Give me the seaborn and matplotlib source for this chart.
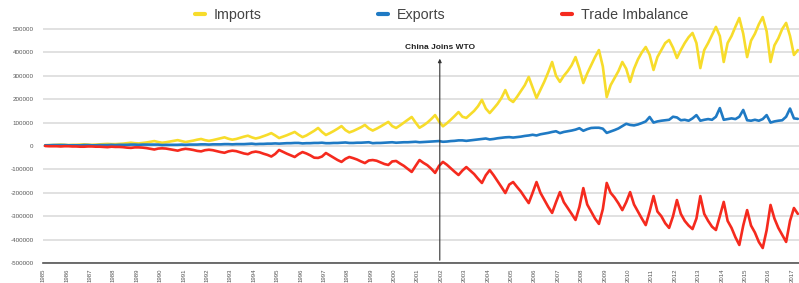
import numpy as np
import pandas as pd
import matplotlib
matplotlib.use("Agg")
import matplotlib.pyplot as plt
import seaborn as sns

years = list(range(1985, 2017))
months = [2, 4, 6, 8, 10, 12]
last_year_months = [2, 4]  # 2017

imports_k = [
    3, 4, 4, 5, 6, 5,           # 1985
    4, 5, 5, 6, 7, 6,           # 1986
    5, 6, 7, 8, 9, 8,           # 1987
    8, 9, 10, 12, 14, 12,       # 1988
    11, 13, 15, 18, 21, 17,     # 1989
    14, 16, 19, 22, 25, 21,     # 1990
    17, 20, 23, 27, 30, 25,     # 1991
    22, 25, 29, 33, 37, 31,     # 1992
    27, 30, 35, 40, 44, 37,     # 1993
    32, 36, 42, 48, 55, 45,     # 1994
    34, 40, 46, 53, 60, 48,     # 1995
    38, 45, 55, 65, 77, 60,     # 1996
    47, 55, 64, 74, 85, 68,     # 1997
    58, 64, 72, 80, 90, 75,     # 1998
    66, 74, 83, 93, 103, 85,    # 1999
    77, 88, 100, 112, 124, 100, # 2000
    78, 88, 100, 115, 132, 105, # 2001
    84, 97, 112, 128, 145, 125, # 2002
    120, 135, 150, 170, 197, 160,  # 2003
    141, 160, 180, 205, 239, 200,  # 2004
    188, 210, 235, 260, 295, 250,  # 2005
    205, 240, 275, 315, 359, 300,  # 2006
    274, 300, 320, 345, 380, 330,  # 2007
    269, 310, 345, 380, 410, 340,  # 2008
    209, 260, 290, 320, 359, 330,  # 2009
    274, 330, 370, 400, 423, 390,  # 2010
    325, 380, 410, 440, 453, 420,  # 2011
    376, 410, 440, 465, 483, 440,  # 2012
    333, 410, 440, 475, 509, 470,  # 2013
    359, 440, 470, 510, 547, 480,  # 2014
    380, 450, 480, 520, 551, 490,  # 2015
    359, 430, 460, 500, 526, 470,  # 2016
    389, 410,                      # 2017
]

exports_k = [
    3, 3, 4, 4, 4, 4,           # 1985
    3, 3, 3, 3, 4, 4,           # 1986
    3, 3, 4, 4, 4, 5,           # 1987
    4, 5, 5, 5, 6, 6,           # 1988
    5, 6, 6, 6, 6, 6,           # 1989
    4, 5, 5, 5, 5, 6,           # 1990
    5, 6, 6, 6, 7, 7,           # 1991
    6, 7, 7, 7, 8, 8,           # 1992
    7, 8, 8, 8, 9, 10,          # 1993
    8, 9, 9, 10, 10, 11,        # 1994
    10, 11, 12, 12, 13, 13,     # 1995
    11, 12, 12, 13, 13, 14,     # 1996
    12, 12, 13, 13, 14, 15,     # 1997
    13, 13, 14, 14, 15, 16,     # 1998
    12, 13, 13, 14, 15, 16,     # 1999
    14, 15, 16, 16, 17, 18,     # 2000
    16, 17, 18, 19, 20, 21,     # 2001
    18, 19, 21, 22, 24, 24,     # 2002
    22, 24, 26, 28, 30, 32,     # 2003
    28, 30, 33, 35, 37, 38,     # 2004
    36, 38, 40, 43, 45, 48,     # 2005
    45, 50, 53, 56, 60, 63,     # 2006
    55, 60, 63, 66, 70, 76,     # 2007
    65, 72, 77, 78, 78, 74,     # 2008
    56, 62, 68, 75, 85, 95,     # 2009
    90, 88, 92, 98, 105, 124,   # 2010
    100, 105, 108, 110, 112, 125,  # 2011
    122, 110, 112, 108, 118, 132,  # 2012
    108, 112, 115, 112, 125, 162,  # 2013
    112, 115, 118, 115, 125, 154,  # 2014
    110, 108, 112, 108, 115, 132,  # 2015
    100, 105, 108, 110, 125, 160,  # 2016
    118, 116,                      # 2017
]

imbalance_k = [
    0, -1, -1, -1, -2, -1,          # 1985
    -1, -2, -2, -3, -3, -2,         # 1986
    -2, -3, -3, -4, -5, -3,         # 1987
    -4, -4, -5, -7, -8, -6,         # 1988
    -6, -7, -9, -12, -15, -11,      # 1989
    -10, -11, -14, -17, -20, -15,   # 1990
    -12, -14, -17, -21, -23, -18,   # 1991
    -16, -18, -22, -26, -29, -23,   # 1992
    -20, -22, -27, -32, -35, -27,   # 1993
    -24, -27, -33, -38, -45, -34,   # 1994
    -17, -25, -33, -40, -47, -35,   # 1995
    -26, -32, -40, -50, -51, -45,   # 1996
    -30, -40, -50, -60, -68, -55,   # 1997
    -47, -52, -58, -66, -73, -62,   # 1998
    -60, -63, -70, -77, -81, -66,   # 1999
    -64, -75, -85, -98, -111, -85,  # 2000
    -60, -72, -82, -97, -115, -85,  # 2001
    -68, -80, -95, -110, -124, -105,    # 2002
    -90, -105, -120, -140, -158, -125,  # 2003
    -103, -125, -150, -175, -201, -165, # 2004
    -154, -175, -195, -220, -244, -200, # 2005
    -154, -200, -230, -260, -286, -240, # 2006
    -197, -240, -265, -290, -316, -260, # 2007
    -180, -250, -280, -310, -333, -270, # 2008
    -158, -200, -220, -245, -274, -240, # 2009
    -197, -250, -280, -310, -338, -280, # 2010
    -214, -280, -300, -330, -350, -300, # 2011
    -231, -290, -320, -340, -355, -310, # 2012
    -214, -290, -320, -345, -359, -300, # 2013
    -239, -320, -350, -390, -423, -340, # 2014
    -274, -340, -370, -410, -436, -360, # 2015
    -252, -310, -350, -380, -410, -320, # 2016
    -265, -290,                         # 2017
]

series_names = ["Imports", "Exports", "Trade Imbalance"]
colors = ["#F7DC2B", "#1F7AC4", "#F52A1E"]

ytick_vals = [500, 400, 300, 200, 100, 0, -100, -200, -300, -400, -500]
ytick_labels = ["500000", "400000", "300000", "200000", "100000", "0",
                "-100000", "-200000", "-300000", "-400000", "-500000"]
xtick_years = list(range(1985, 2018))

wto_year = 2001.95
wto_label = "China Joins WTO"

# time axis (fractional years)
t = [y + (m - 1) / 12 for y in years for m in months] + [2017 + (m - 1) / 12 for m in last_year_months]

df = pd.concat([
    pd.DataFrame({"time": t, "value": imports_k, "series": "Imports"}),
    pd.DataFrame({"time": t, "value": exports_k, "series": "Exports"}),
    pd.DataFrame({"time": t, "value": imbalance_k, "series": "Trade Imbalance"}),
])

sns.set_theme(style="white")
plt.rcParams["font.family"] = ["Liberation Sans", "DejaVu Sans"]

fig = plt.figure(figsize=(7.99, 2.83), dpi=100)
ax = fig.add_axes([0.054, 0.0707, 0.946, 0.893])

# grid lines
for v in ytick_vals:
    ax.axhline(v, color="#dedede", lw=1.3, zorder=0)

sns.lineplot(data=df, x="time", y="value", hue="series", hue_order=series_names,
             palette=colors, linewidth=1.9, legend=False, ax=ax, zorder=3)

ax.set_xlim(1985, 2017.3)
ax.set_ylim(-500, 580)
ax.set_yticks(ytick_vals)
ax.set_yticklabels(ytick_labels, fontsize=4.5, color="#555555")
ax.set_xticks(xtick_years)
ax.set_xticklabels([str(y) for y in xtick_years], rotation=90, fontsize=4.3, color="#555555")
ax.tick_params(axis="y", length=0, pad=7)
ax.tick_params(axis="x", length=2, width=0.6, color="#888888", pad=2)
ax.set_xlabel("")
ax.set_ylabel("")
for s in ["top", "right", "left"]:
    ax.spines[s].set_visible(False)
ax.spines["bottom"].set_color("#555555")
ax.spines["bottom"].set_linewidth(1.2)
ax.spines["bottom"].set_zorder(4)

# WTO annotation
ax.annotate("", xy=(wto_year, 385), xytext=(wto_year, -500),
            arrowprops=dict(arrowstyle="-|>", color="#333333", lw=0.8, mutation_scale=5),
            zorder=5)
ax.text(wto_year, 422, wto_label, ha="center", va="center", fontsize=6,
        fontweight="bold", color="#222222", zorder=5)

# legend
handles = [plt.Line2D([], [], color=c, lw=3) for c in colors]
ax.legend(handles, series_names, loc="upper center", bbox_to_anchor=(0.527, 1.06),
          ncol=3, frameon=False, fontsize=10.3, handlelength=0.7, handletextpad=0.65,
          columnspacing=8.1, labelcolor="#444444")

fig.savefig("out.png", dpi=100)
